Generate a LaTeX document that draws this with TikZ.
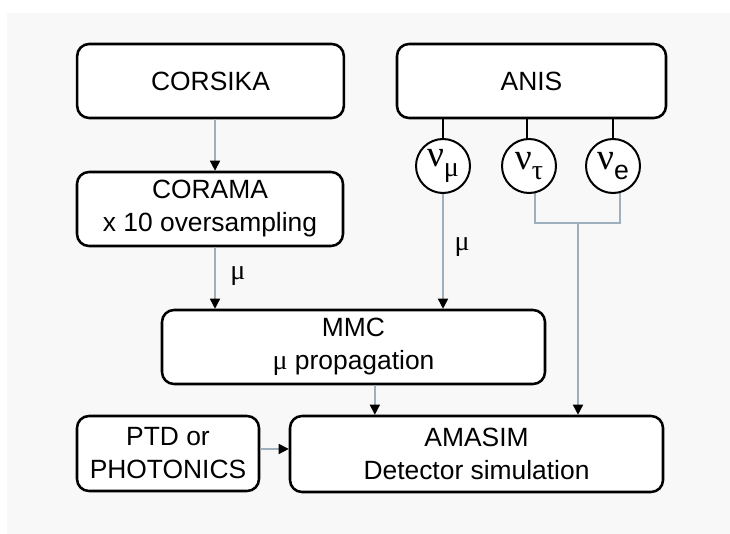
\documentclass[tikz,border=0pt]{standalone}
\usepackage{fontspec}
\setmainfont{Liberation Sans}
\newfontfamily\symf{Liberation Serif}
\usetikzlibrary{arrows.meta}
\definecolor{bgc}{RGB}{248,248,248}
\definecolor{linec}{RGB}{158,176,190}
\begin{document}
\begin{tikzpicture}[x=0.75pt,y=-0.75pt,
  box/.style={draw=black,line width=1.9pt,rounded corners=9pt,fill=white,align=center,
    font=\fontsize{19.8}{24.75}\selectfont,inner sep=0pt},
  nu/.style={draw=black,line width=1.5pt,circle,fill=white,minimum size=40.5pt,inner sep=0pt},
  conn/.style={draw=linec,line width=1.1pt,-{Triangle[width=7.5pt,length=7.5pt,color=black,fill=black]}},
  gline/.style={draw=linec,line width=1.1pt},
  blk/.style={draw=black,line width=1.5pt},
  lab/.style={font=\symf\fontsize{21}{21}\selectfont,inner sep=0pt}]
\fill[white] (0,0) rectangle (730,534);
\fill[bgc] (7,13) rectangle (730,534);
\useasboundingbox (0,0) rectangle (730,534);

\node[box,minimum width=200pt,minimum height=55.5pt] (corsika) at (210.5,81) {CORSIKA};
\node[box,minimum width=201.75pt,minimum height=55.5pt] (anis) at (531.5,81) {ANIS};
\node[box,minimum width=199.5pt,minimum height=55.5pt] (corama) at (210,209) {CORAMA\\x 10 oversampling};
\node[box,minimum width=287.25pt,minimum height=55.5pt] (mmc) at (353.5,347) {MMC\\{\symf\fontsize{21}{21}\selectfont μ} propagation};
\node[box,minimum width=136.5pt,minimum height=56.25pt] (ptd) at (168,453.5) {PTD or\\PHOTONICS};
\node[box,minimum width=279.75pt,minimum height=57pt] (amasim) at (476.5,454) {AMASIM\\Detector simulation};

% ANIS to circles (black stubs)
\coordinate (numuC) at (443,166);
\coordinate (nutauC) at (529,166);
\coordinate (nueC) at (613,166);
\draw[blk] (numuC |- anis.south) -- (numuC);
\draw[blk] ([xshift=-1.5pt]nutauC |- anis.south) -- ([xshift=-1.5pt]nutauC);
\draw[blk] (nueC |- anis.south) -- (nueC);

% gray lines from nu_tau / nu_e
\coordinate (ts) at ([xshift=4.5pt]nutauC);
\coordinate (es) at ([xshift=5.25pt]nueC);
\coordinate (jy) at (578,223);
\draw[gline] (ts) -- (ts |- jy) -- (es |- jy) -- (es);
\draw[conn] (jy) -- (jy |- amasim.north);

% circles
\node[nu] (numu) at (numuC) {{\symf\fontsize{28}{28}\selectfont ν}\raisebox{-8pt}{\symf\fontsize{21}{21}\selectfont μ}};
\node[nu] (nutau) at (nutauC) {{\symf\fontsize{28}{28}\selectfont ν}\raisebox{-8pt}{\symf\fontsize{21}{21}\selectfont τ}};
\node[nu] (nue) at (nueC) {{\symf\fontsize{28}{28}\selectfont ν}\raisebox{-7.5pt}{\fontsize{20}{20}\selectfont e}};

% CORSIKA -> CORAMA -> MMC
\coordinate (a1) at ([xshift=3.4pt]corsika.south);
\draw[conn] (a1) -- (a1 |- corama.north);
\coordinate (a2) at ([xshift=3.75pt]corama.south);
\draw[conn] (a2) -- (a2 |- mmc.north);
\node[lab] (mu1) at (238,276) {μ};

% nu_mu -> MMC
\draw[conn] (numu.south) -- (numu.south |- mmc.north);
\node[lab] (mu2) at (462,247) {μ};

% MMC -> AMASIM
\coordinate (a3) at ([xshift=16pt]mmc.south);
\draw[conn] (a3) -- (a3 |- amasim.north);

% PTD -> AMASIM
\coordinate (a4) at ([yshift=3.4pt]ptd.east);
\draw[conn] (a4) -- (a4 -| amasim.west);
\end{tikzpicture}
\end{document}
